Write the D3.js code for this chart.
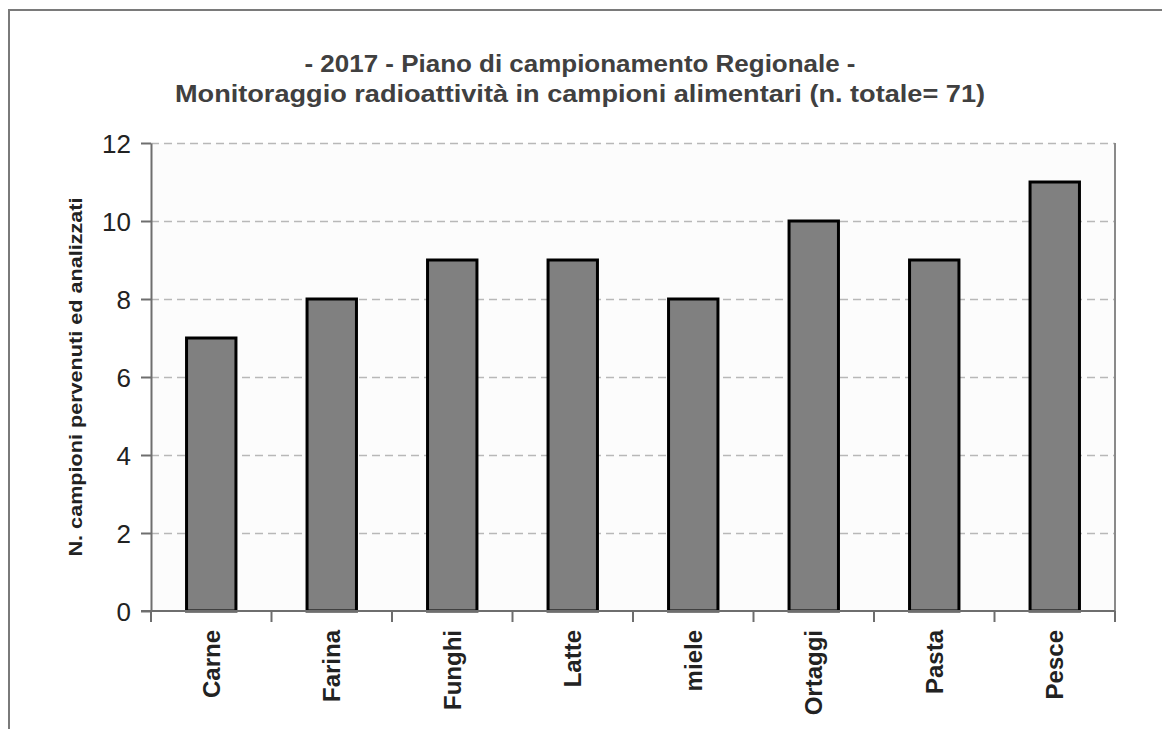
<!DOCTYPE html>
<html>
<head>
<meta charset="utf-8">
<script src="https://cdn.jsdelivr.net/npm/d3@7"></script>
<style>
  body { margin: 0; background: #fff; }
  svg { display: block; font-family: "Liberation Sans", Arial, sans-serif; }
  .grid line { stroke: #b8b8b8; stroke-dasharray: 8,5; stroke-width: 1.3; }
  .grid path { display: none; }
  .axis path, .axis line { stroke: #6e6e6e; stroke-width: 2; }
  .axis text { fill: #222; }
</style>
</head>
<body>
<div id="chart"></div>
<script>
const categories = ["Carne", "Farina", "Funghi", "Latte", "miele", "Ortaggi", "Pasta", "Pesce"];
const values = [7, 8, 9, 9, 8, 10, 9, 11];
const yTicks = [0, 2, 4, 6, 8, 10, 12];
const titleLines = ["- 2017 - Piano di campionamento Regionale -",
                    "Monitoraggio radioattività in campioni alimentari (n. totale= 71)"];
const titleWidths = [551, 810];
const yLabel = "N. campioni pervenuti ed analizzati";

const svgWidth = 1162, svgHeight = 729;
const margin = {top: 143, right: 47, bottom: 118, left: 151};
const width = svgWidth - margin.left - margin.right;
const height = svgHeight - margin.top - margin.bottom;

const root = d3.select("#chart").append("svg")
    .attr("width", svgWidth)
    .attr("height", svgHeight);

// outer frame
root.append("path")
    .attr("d", "M9,729 V10 H1162")
    .attr("fill", "none")
    .attr("stroke", "#7a7a7a")
    .attr("stroke-width", 2);

// title (glyphs in the original are a bit wider than Liberation Sans)
root.selectAll(".title")
    .data(titleLines)
    .join("text")
    .attr("class", "title")
    .attr("x", 580)
    .attr("y", (d, i) => 72 + i * 30)
    .attr("text-anchor", "middle")
    .attr("font-size", 23)
    .attr("font-weight", "bold")
    .attr("fill", "#404040")
    .attr("textLength", (d, i) => titleWidths[i])
    .attr("lengthAdjust", "spacingAndGlyphs")
    .text(d => d);

const svg = root.append("g")
    .attr("transform", "translate(" + margin.left + "," + margin.top + ")");

const xscale = d3.scaleBand()
    .domain(categories)
    .range([0, width])
    .paddingInner(0.59)
    .paddingOuter(0.295);

const yscale = d3.scaleLinear()
    .domain([0, 12])
    .range([height, 0]);

// plot background
svg.append("rect")
    .attr("width", width)
    .attr("height", height)
    .attr("fill", "#fcfcfc");

// gridlines
svg.append("g")
    .attr("class", "grid")
    .call(d3.axisLeft(yscale).tickValues(yTicks.slice(1)).tickSize(-width).tickFormat(""));

// right border
svg.append("line")
    .attr("x1", width).attr("x2", width)
    .attr("y1", 0).attr("y2", height)
    .attr("stroke", "#8a8a8a")
    .attr("stroke-width", 2);

// bars
svg.selectAll(".bar")
    .data(values)
    .join("rect")
    .attr("class", "bar")
    .attr("x", (d, i) => xscale(categories[i]))
    .attr("y", d => yscale(d))
    .attr("width", xscale.bandwidth())
    .attr("height", d => height - yscale(d))
    .attr("fill", "#808080")
    .attr("stroke", "#000")
    .attr("stroke-width", 3);

// y axis
const yaxis = svg.append("g")
    .attr("class", "axis")
    .call(d3.axisLeft(yscale).tickValues(yTicks).tickSize(10).tickPadding(10).tickSizeOuter(0));
yaxis.selectAll("text").attr("font-size", 26).attr("dy", "0.36em");

// x axis: ticks at the band boundaries
const step = xscale.step();
const xaxis = svg.append("g")
    .attr("class", "axis")
    .attr("transform", "translate(0," + height + ")");
xaxis.append("line")
    .attr("x1", -10).attr("x2", width)
    .attr("y1", 0).attr("y2", 0);
xaxis.selectAll(".xtick")
    .data(d3.range(categories.length + 1))
    .join("line")
    .attr("class", "xtick")
    .attr("x1", i => i * step).attr("x2", i => i * step)
    .attr("y1", 0).attr("y2", 11);
xaxis.selectAll(".xlabel")
    .data(categories)
    .join("text")
    .attr("class", "xlabel")
    .attr("transform", d => "translate(" + (xscale(d) + xscale.bandwidth() / 2) + ",19)rotate(-90)")
    .attr("text-anchor", "end")
    .attr("dy", "0.36em")
    .attr("font-size", 24)
    .attr("font-weight", "bold")
    .attr("fill", "#222")
    .text(d => d);

// y label
root.append("text")
    .attr("transform", "translate(76," + (margin.top + height / 2) + ")rotate(-90)")
    .attr("text-anchor", "middle")
    .attr("dy", "0.36em")
    .attr("font-size", 18)
    .attr("font-weight", "bold")
    .attr("fill", "#222")
    .attr("textLength", 359)
    .attr("lengthAdjust", "spacingAndGlyphs")
    .text(yLabel);
</script>
</body>
</html>
